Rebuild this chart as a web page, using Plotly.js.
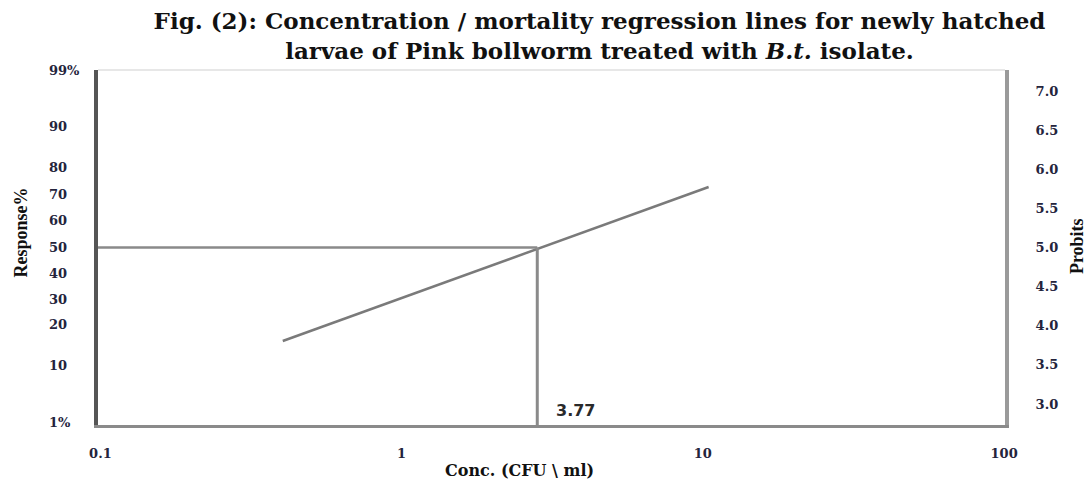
<!DOCTYPE html>
<html>
<head>
<meta charset="utf-8">
<script src="https://cdn.plot.ly/plotly-3.0.1.min.js"></script>
<style>html,body{margin:0;padding:0;background:#fff;}#chart{width:1088px;height:482px;}</style>
</head>
<body>
<div id="chart"></div>
<script>
// ---- data ----
const xTickVals = [0.1, 1, 10, 100];
const xTickText = ['0.1', '1', '10', '100'];
const probitTicks = [3.0, 3.5, 4.0, 4.5, 5.0, 5.5, 6.0, 6.5, 7.0];
const responseLabels = ['99%', '90', '80', '70', '60', '50', '40', '30', '20', '10', '1%'];
const responseProbitPos = [7.256, 6.54, 6.016, 5.671, 5.351, 5.006, 4.674, 4.342, 4.022, 3.498, 2.77];
const regConc = [0.403, 10.45];
const regProbit = [3.805, 5.773];
const lc50Conc = 2.82;
const lc50Probit = 5.0;
const lc50Label = '3.77';
const yRange = [2.732, 7.268];
const xLogRange = [-1.008, 2.003];

const tickFont = {family: 'DejaVu Serif', size: 13, color: '#24243c', weight: 'bold'};

const traces = [
  {x: regConc, y: regProbit, mode: 'lines', line: {color: '#7a7a7a', width: 2.5}, hoverinfo: 'skip', showlegend: false},
  {x: [Math.pow(10, xLogRange[0]), lc50Conc], y: [lc50Probit, lc50Probit], mode: 'lines', line: {color: '#8a8a8a', width: 2.5}, hoverinfo: 'skip', showlegend: false},
  {x: [lc50Conc, lc50Conc], y: [lc50Probit, yRange[0]], mode: 'lines', line: {color: '#8a8a8a', width: 3}, hoverinfo: 'skip', showlegend: false},
  {x: [lc50Conc], y: [lc50Probit], yaxis: 'y2', mode: 'markers', marker: {size: 1, opacity: 0}, hoverinfo: 'skip', showlegend: false}
];

const annotations = responseLabels.map((t, i) => ({
  text: t, xref: 'paper', yref: 'y', x: -0.0557, y: responseProbitPos[i],
  xanchor: 'left', yanchor: 'middle', showarrow: false, font: tickFont
}));
annotations.push({text: lc50Label, xref: 'paper', yref: 'y', x: 0.527, y: 2.923, xanchor: 'center', yanchor: 'middle', showarrow: false,
  font: {family: 'DejaVu Sans', size: 16, color: '#2a2a2a', weight: 'bold'}});
annotations.push({text: 'Response%', xref: 'paper', yref: 'paper', x: -0.0844, y: 0.5437, textangle: -90, showarrow: false,
  xanchor: 'center', yanchor: 'middle', font: {family: 'Liberation Serif', size: 18, color: '#111', weight: 'bold'}});
annotations.push({text: 'Probits', xref: 'paper', yref: 'paper', x: 1.0794, y: 0.504, textangle: -90, showarrow: false,
  xanchor: 'center', yanchor: 'middle', font: {family: 'Liberation Serif', size: 18, color: '#111', weight: 'bold'}});
annotations.push({text: 'Conc. (CFU \\ ml)', xref: 'paper', yref: 'paper', x: 0.465, y: -0.128, showarrow: false,
  xanchor: 'center', yanchor: 'middle', font: {family: 'DejaVu Serif', size: 16, color: '#111', weight: 'bold'}});

const layout = {
  width: 1088, height: 482,
  margin: {l: 98, r: 83, t: 70, b: 57},
  paper_bgcolor: '#fff', plot_bgcolor: '#fff',
  title: {text: 'Fig. (2): Concentration / mortality regression lines for newly hatched<br>larvae of Pink bollworm treated with <i>B.t.</i> isolate.',
    x: 0.551, xanchor: 'center', y: 0.94, yanchor: 'middle', yref: 'container',
    font: {family: 'DejaVu Serif', size: 23, color: '#111', weight: 'bold'}},
  xaxis: {type: 'log', range: xLogRange, tickvals: xTickVals, ticktext: xTickText, ticks: '',
    showgrid: false, zeroline: false, showline: true, linecolor: '#8a8a8a', linewidth: 3,
    tickfont: tickFont, ticklabelstandoff: 14},
  yaxis: {range: yRange, showticklabels: false, ticks: '', showgrid: false, zeroline: false,
    showline: true, linecolor: '#555', linewidth: 4},
  yaxis2: {range: yRange, overlaying: 'y', side: 'right', tickvals: probitTicks,
    ticktext: probitTicks.map(v => v.toFixed(1)), ticks: '', showgrid: false, zeroline: false,
    showline: true, linecolor: '#9a9a9a', linewidth: 4, tickfont: tickFont, ticklabelstandoff: 24},
  shapes: [{type: 'line', xref: 'paper', yref: 'paper', x0: 0, x1: 1, y0: 1, y1: 1, line: {color: '#cfcfcf', width: 1}}],
  annotations: annotations
};

Plotly.newPlot('chart', traces, layout, {displayModeBar: false, staticPlot: true});
</script>
</body>
</html>
